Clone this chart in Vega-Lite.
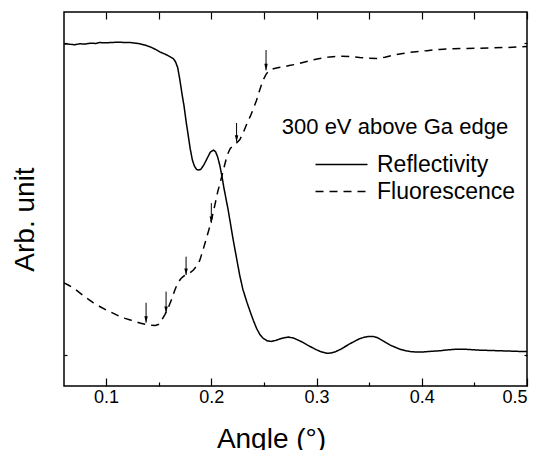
{
  "$schema": "https://vega.github.io/schema/vega-lite/v6.json",
  "width": 463,
  "height": 374,
  "autosize": "none",
  "padding": {"left": 64, "top": 12, "right": 16, "bottom": 64},
  "background": "white",
  "config": {
    "font": "Liberation Sans",
    "view": {"stroke": "black", "strokeWidth": 1.5},
    "axis": {"domain": false, "grid": false, "tickColor": "black", "tickWidth": 1.2, "labelColor": "black", "titleColor": "black", "labelFont": "Liberation Sans", "titleFont": "Liberation Sans", "titleFontWeight": "normal"}
  },
  "datasets": {
    "curves": [
      {"series": "Reflectivity", "angle": 0.060, "value": 0.997},
      {"series": "Reflectivity", "angle": 0.064, "value": 0.997},
      {"series": "Reflectivity", "angle": 0.070, "value": 0.995},
      {"series": "Reflectivity", "angle": 0.075, "value": 0.998},
      {"series": "Reflectivity", "angle": 0.080, "value": 0.997},
      {"series": "Reflectivity", "angle": 0.085, "value": 1.000},
      {"series": "Reflectivity", "angle": 0.090, "value": 0.999},
      {"series": "Reflectivity", "angle": 0.094, "value": 1.002},
      {"series": "Reflectivity", "angle": 0.100, "value": 1.001},
      {"series": "Reflectivity", "angle": 0.104, "value": 1.002},
      {"series": "Reflectivity", "angle": 0.110, "value": 1.003},
      {"series": "Reflectivity", "angle": 0.113, "value": 1.003},
      {"series": "Reflectivity", "angle": 0.118, "value": 1.002},
      {"series": "Reflectivity", "angle": 0.123, "value": 1.002},
      {"series": "Reflectivity", "angle": 0.128, "value": 1.000},
      {"series": "Reflectivity", "angle": 0.132, "value": 0.998},
      {"series": "Reflectivity", "angle": 0.137, "value": 0.994},
      {"series": "Reflectivity", "angle": 0.142, "value": 0.988},
      {"series": "Reflectivity", "angle": 0.147, "value": 0.980},
      {"series": "Reflectivity", "angle": 0.151, "value": 0.972},
      {"series": "Reflectivity", "angle": 0.156, "value": 0.965},
      {"series": "Reflectivity", "angle": 0.161, "value": 0.956},
      {"series": "Reflectivity", "angle": 0.164, "value": 0.950},
      {"series": "Reflectivity", "angle": 0.166, "value": 0.940},
      {"series": "Reflectivity", "angle": 0.168, "value": 0.922},
      {"series": "Reflectivity", "angle": 0.170, "value": 0.885},
      {"series": "Reflectivity", "angle": 0.172, "value": 0.840},
      {"series": "Reflectivity", "angle": 0.174, "value": 0.800},
      {"series": "Reflectivity", "angle": 0.176, "value": 0.750},
      {"series": "Reflectivity", "angle": 0.178, "value": 0.705},
      {"series": "Reflectivity", "angle": 0.180, "value": 0.660},
      {"series": "Reflectivity", "angle": 0.182, "value": 0.625},
      {"series": "Reflectivity", "angle": 0.184, "value": 0.605},
      {"series": "Reflectivity", "angle": 0.186, "value": 0.595},
      {"series": "Reflectivity", "angle": 0.188, "value": 0.593},
      {"series": "Reflectivity", "angle": 0.190, "value": 0.595},
      {"series": "Reflectivity", "angle": 0.193, "value": 0.610},
      {"series": "Reflectivity", "angle": 0.196, "value": 0.630},
      {"series": "Reflectivity", "angle": 0.199, "value": 0.650},
      {"series": "Reflectivity", "angle": 0.202, "value": 0.657},
      {"series": "Reflectivity", "angle": 0.204, "value": 0.652},
      {"series": "Reflectivity", "angle": 0.206, "value": 0.635},
      {"series": "Reflectivity", "angle": 0.208, "value": 0.609},
      {"series": "Reflectivity", "angle": 0.210, "value": 0.575},
      {"series": "Reflectivity", "angle": 0.212, "value": 0.535},
      {"series": "Reflectivity", "angle": 0.214, "value": 0.500},
      {"series": "Reflectivity", "angle": 0.216, "value": 0.465},
      {"series": "Reflectivity", "angle": 0.218, "value": 0.425},
      {"series": "Reflectivity", "angle": 0.221, "value": 0.365},
      {"series": "Reflectivity", "angle": 0.224, "value": 0.310},
      {"series": "Reflectivity", "angle": 0.227, "value": 0.255},
      {"series": "Reflectivity", "angle": 0.230, "value": 0.210},
      {"series": "Reflectivity", "angle": 0.234, "value": 0.167},
      {"series": "Reflectivity", "angle": 0.237, "value": 0.138},
      {"series": "Reflectivity", "angle": 0.240, "value": 0.110},
      {"series": "Reflectivity", "angle": 0.243, "value": 0.085},
      {"series": "Reflectivity", "angle": 0.246, "value": 0.066},
      {"series": "Reflectivity", "angle": 0.249, "value": 0.054},
      {"series": "Reflectivity", "angle": 0.253, "value": 0.045},
      {"series": "Reflectivity", "angle": 0.257, "value": 0.043},
      {"series": "Reflectivity", "angle": 0.261, "value": 0.046},
      {"series": "Reflectivity", "angle": 0.267, "value": 0.053},
      {"series": "Reflectivity", "angle": 0.273, "value": 0.057},
      {"series": "Reflectivity", "angle": 0.278, "value": 0.054},
      {"series": "Reflectivity", "angle": 0.282, "value": 0.048},
      {"series": "Reflectivity", "angle": 0.287, "value": 0.040},
      {"series": "Reflectivity", "angle": 0.291, "value": 0.032},
      {"series": "Reflectivity", "angle": 0.296, "value": 0.023},
      {"series": "Reflectivity", "angle": 0.300, "value": 0.016},
      {"series": "Reflectivity", "angle": 0.305, "value": 0.009},
      {"series": "Reflectivity", "angle": 0.310, "value": 0.005},
      {"series": "Reflectivity", "angle": 0.314, "value": 0.006},
      {"series": "Reflectivity", "angle": 0.318, "value": 0.010},
      {"series": "Reflectivity", "angle": 0.323, "value": 0.018},
      {"series": "Reflectivity", "angle": 0.327, "value": 0.026},
      {"series": "Reflectivity", "angle": 0.332, "value": 0.036},
      {"series": "Reflectivity", "angle": 0.337, "value": 0.045},
      {"series": "Reflectivity", "angle": 0.341, "value": 0.052},
      {"series": "Reflectivity", "angle": 0.346, "value": 0.057},
      {"series": "Reflectivity", "angle": 0.350, "value": 0.059},
      {"series": "Reflectivity", "angle": 0.354, "value": 0.059},
      {"series": "Reflectivity", "angle": 0.358, "value": 0.055},
      {"series": "Reflectivity", "angle": 0.362, "value": 0.047},
      {"series": "Reflectivity", "angle": 0.366, "value": 0.039},
      {"series": "Reflectivity", "angle": 0.370, "value": 0.031},
      {"series": "Reflectivity", "angle": 0.375, "value": 0.024},
      {"series": "Reflectivity", "angle": 0.380, "value": 0.017},
      {"series": "Reflectivity", "angle": 0.385, "value": 0.013},
      {"series": "Reflectivity", "angle": 0.390, "value": 0.010},
      {"series": "Reflectivity", "angle": 0.396, "value": 0.009},
      {"series": "Reflectivity", "angle": 0.401, "value": 0.009},
      {"series": "Reflectivity", "angle": 0.408, "value": 0.011},
      {"series": "Reflectivity", "angle": 0.417, "value": 0.013},
      {"series": "Reflectivity", "angle": 0.425, "value": 0.016},
      {"series": "Reflectivity", "angle": 0.433, "value": 0.018},
      {"series": "Reflectivity", "angle": 0.440, "value": 0.018},
      {"series": "Reflectivity", "angle": 0.446, "value": 0.017},
      {"series": "Reflectivity", "angle": 0.455, "value": 0.015},
      {"series": "Reflectivity", "angle": 0.465, "value": 0.014},
      {"series": "Reflectivity", "angle": 0.475, "value": 0.013},
      {"series": "Reflectivity", "angle": 0.484, "value": 0.012},
      {"series": "Reflectivity", "angle": 0.492, "value": 0.011},
      {"series": "Reflectivity", "angle": 0.500, "value": 0.011},
      {"series": "Fluorescence", "angle": 0.060, "value": 0.231},
      {"series": "Fluorescence", "angle": 0.064, "value": 0.224},
      {"series": "Fluorescence", "angle": 0.070, "value": 0.212},
      {"series": "Fluorescence", "angle": 0.075, "value": 0.199},
      {"series": "Fluorescence", "angle": 0.081, "value": 0.183},
      {"series": "Fluorescence", "angle": 0.088, "value": 0.167},
      {"series": "Fluorescence", "angle": 0.094, "value": 0.155},
      {"series": "Fluorescence", "angle": 0.100, "value": 0.144},
      {"series": "Fluorescence", "angle": 0.107, "value": 0.133},
      {"series": "Fluorescence", "angle": 0.113, "value": 0.123},
      {"series": "Fluorescence", "angle": 0.118, "value": 0.117},
      {"series": "Fluorescence", "angle": 0.123, "value": 0.112},
      {"series": "Fluorescence", "angle": 0.128, "value": 0.107},
      {"series": "Fluorescence", "angle": 0.132, "value": 0.102},
      {"series": "Fluorescence", "angle": 0.137, "value": 0.098},
      {"series": "Fluorescence", "angle": 0.142, "value": 0.095},
      {"series": "Fluorescence", "angle": 0.147, "value": 0.094},
      {"series": "Fluorescence", "angle": 0.150, "value": 0.098},
      {"series": "Fluorescence", "angle": 0.153, "value": 0.112},
      {"series": "Fluorescence", "angle": 0.156, "value": 0.130},
      {"series": "Fluorescence", "angle": 0.159, "value": 0.150},
      {"series": "Fluorescence", "angle": 0.162, "value": 0.176},
      {"series": "Fluorescence", "angle": 0.165, "value": 0.205},
      {"series": "Fluorescence", "angle": 0.168, "value": 0.230},
      {"series": "Fluorescence", "angle": 0.171, "value": 0.244},
      {"series": "Fluorescence", "angle": 0.174, "value": 0.253},
      {"series": "Fluorescence", "angle": 0.177, "value": 0.259},
      {"series": "Fluorescence", "angle": 0.180, "value": 0.264},
      {"series": "Fluorescence", "angle": 0.183, "value": 0.272},
      {"series": "Fluorescence", "angle": 0.186, "value": 0.285},
      {"series": "Fluorescence", "angle": 0.189, "value": 0.303},
      {"series": "Fluorescence", "angle": 0.192, "value": 0.335},
      {"series": "Fluorescence", "angle": 0.195, "value": 0.370},
      {"series": "Fluorescence", "angle": 0.198, "value": 0.405},
      {"series": "Fluorescence", "angle": 0.201, "value": 0.445},
      {"series": "Fluorescence", "angle": 0.203, "value": 0.475},
      {"series": "Fluorescence", "angle": 0.206, "value": 0.522},
      {"series": "Fluorescence", "angle": 0.209, "value": 0.560},
      {"series": "Fluorescence", "angle": 0.212, "value": 0.600},
      {"series": "Fluorescence", "angle": 0.215, "value": 0.640},
      {"series": "Fluorescence", "angle": 0.218, "value": 0.662},
      {"series": "Fluorescence", "angle": 0.221, "value": 0.672},
      {"series": "Fluorescence", "angle": 0.224, "value": 0.680},
      {"series": "Fluorescence", "angle": 0.227, "value": 0.690},
      {"series": "Fluorescence", "angle": 0.230, "value": 0.710},
      {"series": "Fluorescence", "angle": 0.233, "value": 0.735},
      {"series": "Fluorescence", "angle": 0.237, "value": 0.765},
      {"series": "Fluorescence", "angle": 0.240, "value": 0.790},
      {"series": "Fluorescence", "angle": 0.243, "value": 0.817},
      {"series": "Fluorescence", "angle": 0.246, "value": 0.850},
      {"series": "Fluorescence", "angle": 0.249, "value": 0.880},
      {"series": "Fluorescence", "angle": 0.252, "value": 0.900},
      {"series": "Fluorescence", "angle": 0.255, "value": 0.912},
      {"series": "Fluorescence", "angle": 0.259, "value": 0.918},
      {"series": "Fluorescence", "angle": 0.263, "value": 0.921},
      {"series": "Fluorescence", "angle": 0.268, "value": 0.924},
      {"series": "Fluorescence", "angle": 0.274, "value": 0.928},
      {"series": "Fluorescence", "angle": 0.280, "value": 0.932},
      {"series": "Fluorescence", "angle": 0.287, "value": 0.938},
      {"series": "Fluorescence", "angle": 0.295, "value": 0.945},
      {"series": "Fluorescence", "angle": 0.303, "value": 0.951},
      {"series": "Fluorescence", "angle": 0.313, "value": 0.956},
      {"series": "Fluorescence", "angle": 0.322, "value": 0.958},
      {"series": "Fluorescence", "angle": 0.332, "value": 0.957},
      {"series": "Fluorescence", "angle": 0.341, "value": 0.954},
      {"series": "Fluorescence", "angle": 0.350, "value": 0.952},
      {"series": "Fluorescence", "angle": 0.358, "value": 0.951},
      {"series": "Fluorescence", "angle": 0.365, "value": 0.955},
      {"series": "Fluorescence", "angle": 0.373, "value": 0.962},
      {"series": "Fluorescence", "angle": 0.382, "value": 0.967},
      {"series": "Fluorescence", "angle": 0.392, "value": 0.972},
      {"series": "Fluorescence", "angle": 0.405, "value": 0.976},
      {"series": "Fluorescence", "angle": 0.417, "value": 0.980},
      {"series": "Fluorescence", "angle": 0.430, "value": 0.982},
      {"series": "Fluorescence", "angle": 0.443, "value": 0.983},
      {"series": "Fluorescence", "angle": 0.455, "value": 0.984},
      {"series": "Fluorescence", "angle": 0.468, "value": 0.985},
      {"series": "Fluorescence", "angle": 0.480, "value": 0.986},
      {"series": "Fluorescence", "angle": 0.490, "value": 0.988},
      {"series": "Fluorescence", "angle": 0.500, "value": 0.989}
    ],
    "arrows": [
      {"angle": 0.138, "top": 0.167, "tip": 0.103},
      {"angle": 0.157, "top": 0.203, "tip": 0.134},
      {"angle": 0.176, "top": 0.315, "tip": 0.256},
      {"angle": 0.200, "top": 0.487, "tip": 0.423},
      {"angle": 0.224, "top": 0.744, "tip": 0.684},
      {"angle": 0.252, "top": 0.978, "tip": 0.913}
    ],
    "note": [
      {"angle": 0.267, "value": 0.731, "label": "300 eV above Ga edge"}
    ]
  },
  "layer": [
    {
      "data": {"name": "curves"},
      "mark": {"type": "line", "color": "black", "strokeWidth": 1.5},
      "encoding": {
        "x": {"field": "angle", "type": "quantitative",
          "scale": {"domain": [0.06, 0.5], "nice": false, "zero": false},
          "axis": {"orient": "bottom", "values": [0.1, 0.2, 0.3, 0.4, 0.5], "format": ".1f", "tickSize": -8, "labelPadding": 10, "labelFontSize": 18, "title": "Angle (°)", "titleFontSize": 28, "titleX": 207, "titleY": 61, "titleBaseline": "alphabetic", "titleAlign": "center"}},
        "y": {"field": "value", "type": "quantitative",
          "scale": {"domain": [-0.1, 1.1], "nice": false, "zero": false},
          "axis": {"orient": "left", "values": [0, 1], "labels": false, "tickSize": -3, "title": "Arb. unit", "titleFontSize": 28, "titleAngle": 270, "titleX": -31, "titleY": 207, "titleBaseline": "alphabetic", "titleAlign": "center"}},
        "strokeDash": {"field": "series", "type": "nominal",
          "scale": {"domain": ["Reflectivity", "Fluorescence"], "range": [[1, 0], [8, 6]]},
          "legend": {"title": null, "orient": "none", "legendX": 266, "legendY": 141, "padding": 0, "symbolType": "M-2.6,0H2.6", "symbolSize": 400, "symbolStrokeWidth": 1.5, "symbolStrokeColor": "black", "symbolFillColor": "transparent", "labelFontSize": 23, "labelColor": "black", "labelOffset": 24, "rowPadding": 3}}
      }
    },
    {
      "data": {"name": "arrows"},
      "mark": {"type": "rule", "color": "black", "strokeWidth": 1},
      "encoding": {
        "x": {"field": "angle", "type": "quantitative",
          "axis": {"orient": "bottom", "values": [0.15, 0.25, 0.35, 0.45], "labels": false, "tickSize": -4, "title": null}},
        "y": {"field": "top", "type": "quantitative",
          "axis": {"orient": "right", "values": [0, 1], "labels": false, "tickSize": -3, "title": null}},
        "y2": {"field": "tip"}
      }
    },
    {
      "data": {"name": "arrows"},
      "mark": {"type": "point", "filled": true, "color": "black", "opacity": 1, "shape": "M-0.35,-1.3L0.35,-1.3L0,0Z", "size": 100},
      "encoding": {
        "x": {"field": "angle", "type": "quantitative",
          "axis": {"orient": "top", "values": [0.1, 0.15, 0.2, 0.25, 0.3, 0.35, 0.4, 0.45, 0.5], "labels": false, "tickSize": -7, "title": null}},
        "y": {"field": "tip", "type": "quantitative", "axis": null}
      }
    },
    {
      "data": {"name": "note"},
      "mark": {"type": "text", "align": "left", "baseline": "middle", "fontSize": 22, "color": "black"},
      "encoding": {
        "x": {"field": "angle", "type": "quantitative", "axis": null},
        "y": {"field": "value", "type": "quantitative", "axis": null},
        "text": {"field": "label"}
      }
    }
  ],
  "resolve": {"axis": {"x": "independent", "y": "independent"}}
}
